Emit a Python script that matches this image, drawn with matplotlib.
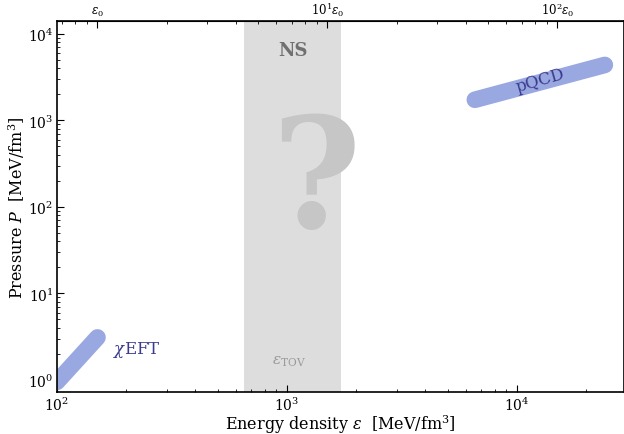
import numpy as np
import matplotlib
matplotlib.use("Agg")
from matplotlib import pyplot as plt
from matplotlib.ticker import LogLocator, FixedLocator, FuncFormatter

plt.rcParams['font.family'] = 'DejaVu Serif'
plt.rcParams['mathtext.fontset'] = 'dejavuserif'

eps0 = 150.0  # saturation energy density [MeV/fm^3]

# chiral EFT and pQCD bands (energy density, pressure)
ceft_eps = [100.0, 150.0]
ceft_p = [0.95, 3.1]
pqcd_eps = [6560.0, 24100.0]
pqcd_p = [1730.0, 4370.0]

# neutron star region, up to eps_TOV
ns_eps = [650.0, 1720.0]

top_ticks = [1, 10, 100]
top_labels = [r'$\varepsilon_0$', r'$10^1\varepsilon_0$', r'$10^2\varepsilon_0$']

fig = plt.figure(figsize=(6.24, 4.35), dpi=100)
ax = fig.add_axes([0.0913, 0.0966, 0.9087, 0.853])

ax.set_xscale('log')
ax.set_yscale('log')
ax.set_xlim(100, 29200)
ax.set_ylim(0.726, 14100)

ax.axvspan(ns_eps[0], ns_eps[1], color='#dddddd', lw=0, zorder=0)

band_col = '#9aa8e1'
ax.plot(ceft_eps, ceft_p, color=band_col, lw=12, solid_capstyle='round', zorder=2)
ax.plot(pqcd_eps, pqcd_p, color=band_col, lw=12, solid_capstyle='round', zorder=2)

ax.text(175, 2.3, r'$\chi$EFT', color='#3b3b8e', fontsize=12, va='center', ha='left')
ax.text(12600, 2900, 'pQCD', color='#3b3b8e', fontsize=12, va='center', ha='center',
        rotation=16)

ax.text(1060, 6500, 'NS', color='#707070', fontsize=13, fontweight='bold',
        ha='center', va='center')
ax.text(1330, 180, '?', color='#c6c6c6', fontsize=110, fontweight='bold',
        ha='center', va='center', zorder=1)
ax.text(1020, 1.65, r'$\varepsilon_{\rm TOV}$', color='#9a9a9a', fontsize=11,
        ha='center', va='center')

ax.set_xlabel(r'Energy density $\varepsilon$  [MeV/fm$^3$]', fontsize=11.5, labelpad=0)
ax.set_ylabel(r'Pressure $P$  [MeV/fm$^3$]', fontsize=11.5, labelpad=1)

ax.tick_params(which='both', direction='in', top=False, right=False, labelsize=10)
ax.tick_params(which='major', length=5, pad=2.5)
ax.tick_params(which='minor', length=2.5)
ax.yaxis.set_minor_locator(LogLocator(base=10, subs=np.arange(2, 10)))
ax.xaxis.set_minor_locator(LogLocator(base=10, subs=np.arange(2, 10)))

sec = ax.secondary_xaxis('top', functions=(lambda x: x / eps0, lambda x: x * eps0))
sec.xaxis.set_major_locator(FixedLocator(top_ticks))
sec.xaxis.set_major_formatter(FuncFormatter(
    lambda v, pos: top_labels[top_ticks.index(round(v))] if round(v) in top_ticks else ''))
sec.xaxis.set_minor_locator(LogLocator(base=10, subs=np.arange(2, 10)))
sec.tick_params(which='both', direction='in', labelsize=8.5)
sec.tick_params(which='major', length=5, pad=2)
sec.tick_params(which='minor', length=2.5)

for s in ax.spines.values():
    s.set_linewidth(1.2)

fig.savefig('out.png', dpi=100)
